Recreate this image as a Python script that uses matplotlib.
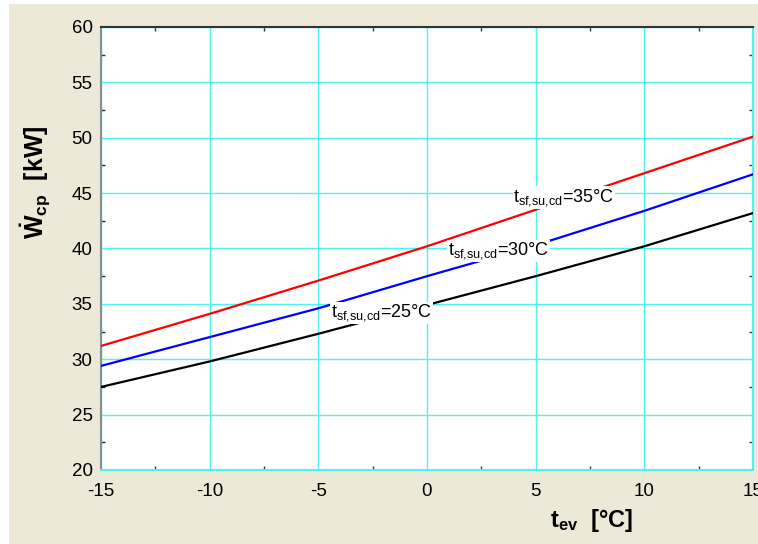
"""Compressor power vs evaporating temperature for three supply temperatures."""
import numpy as np
import matplotlib
matplotlib.use("Agg")
import matplotlib.pyplot as plt
from matplotlib.patches import Rectangle
from matplotlib.ticker import MultipleLocator

plt.rcParams["font.family"] = ["Liberation Sans", "DejaVu Sans"]
plt.rcParams["mathtext.fontset"] = "custom"
plt.rcParams["mathtext.rm"] = "Liberation Sans"
plt.rcParams["mathtext.it"] = "Liberation Sans"
plt.rcParams["mathtext.bf"] = "Liberation Sans:bold"
plt.rcParams["axes.unicode_minus"] = False

# data
t_ev = [-15, -10, -5, 0, 5, 10, 15]
w_25 = [27.5, 29.8, 32.3, 34.9, 37.5, 40.2, 43.2]
w_30 = [29.4, 32.0, 34.6, 37.5, 40.3, 43.4, 46.7]
w_35 = [31.2, 34.1, 37.1, 40.2, 43.5, 46.8, 50.1]
series_labels = ["25", "30", "35"]
label_pos = [(-2.1, 34.2), (3.3, 39.8), (6.3, 44.6)]

bg = "#ECE9D8"
grid_col = "#4FF2F2"

fig = plt.figure(figsize=(7.58, 5.44), dpi=100, facecolor="white")
fig.patches.append(Rectangle((9 / 758, 0), 1, 1 - 4 / 544, transform=fig.transFigure,
                             facecolor=bg, edgecolor="none", zorder=-10))
ax = fig.add_axes([101 / 758, 1 - 470 / 544, 652 / 758, 443 / 544])

for ys, col in zip([w_25, w_30, w_35], ["black", "blue", "red"]):
    ax.plot(t_ev, ys, color=col, lw=1.6, zorder=3)

for (x, y), s in zip(label_pos, series_labels):
    ax.text(x, y, r"t$_{\mathrm{sf{,}su{,}cd}}$=" + s + "°C", fontsize=13, ha="center", va="center",
            zorder=4, bbox=dict(facecolor="white", edgecolor="none", pad=0.5))

ax.set_xlim(-15, 15)
ax.set_ylim(20, 60)
ax.xaxis.set_major_locator(MultipleLocator(5))
ax.xaxis.set_minor_locator(MultipleLocator(2.5))
ax.yaxis.set_major_locator(MultipleLocator(5))
ax.yaxis.set_minor_locator(MultipleLocator(2.5))
ax.grid(True, which="major", color=grid_col, lw=1.0, zorder=1)
ax.tick_params(which="major", length=0, labelsize=13.5, pad=9)
ax.tick_params(axis="y", which="major", pad=6)
ax.tick_params(which="minor", direction="in", length=3, width=1, color="#333333",
               top=True, right=True, bottom=True, left=True)

ax.spines["left"].set_color("#8C8C8C")
ax.spines["top"].set_color("#333333")
ax.spines["bottom"].set_color(grid_col)
ax.spines["right"].set_color(grid_col)
for sp in ax.spines.values():
    sp.set_linewidth(1.5)

ax.set_xlabel(r"$\mathbf{t_{ev}}$  [°C]", fontsize=17, fontweight="bold")
ax.set_ylabel(r"$\mathbf{\dot{W}_{cp}}$  [kW]", fontsize=18, fontweight="bold")
ax.xaxis.set_label_coords(0.752, -0.083)
ax.yaxis.set_label_coords(-0.074, 0.65)

fig.savefig("out.png", dpi=100, facecolor=fig.get_facecolor())
